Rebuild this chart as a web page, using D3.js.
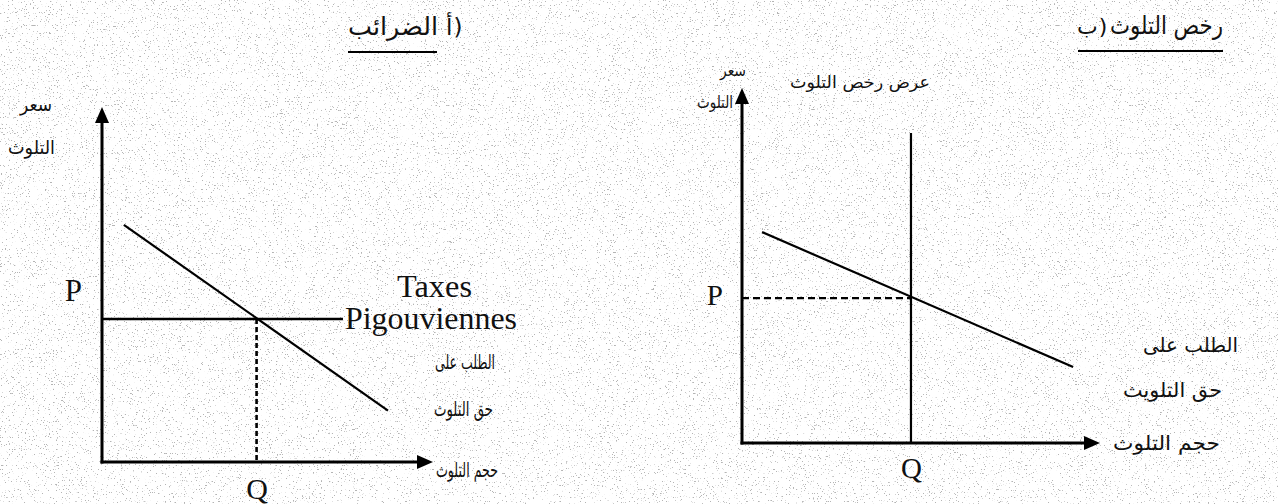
<!DOCTYPE html>
<html>
<head>
<meta charset="utf-8">
<script src="https://cdn.jsdelivr.net/npm/d3@7/dist/d3.min.js"></script>
<style>
  html, body { margin: 0; padding: 0; background: #ffffff; }
  svg { display: block; }
  .lat { font-family: "Liberation Serif", "Times New Roman", serif; fill: #111; }
  .ar  { font-family: "DejaVu Sans", sans-serif; fill: #111; }
</style>
</head>
<body>
<svg id="chart" width="1278" height="504"></svg>
<script>
// ---------- data ----------
const panelTitles = ["الضرائب", "رخص التلوث"];
const panelLetters = ["أ)", "ب)"];
const yAxisLabel = ["سعر", "التلوث"];
const xAxisLabel = "حجم التلوث";
const demandLabelA = ["الطلب على", "حق التلوث"];
const demandLabelB = ["الطلب على", "حق التلويث"];
const supplyLabelB = "عرض رخص التلوث";
const taxLabel = ["Taxes", "Pigouviennes"];
const tickP = ["P"];
const tickQ = ["Q"];

// panel A (taxes): demand line end points [quantity, price], tax level, quantity
const demandA = [[0.66, 6.68], [8.64, 1.45]];
const taxA = [[0, 4.03], [7.28, 4.03]];
const eqA = { q: 4.67, p: 4.03 };

// panel B (permits): demand line, vertical permit supply, equilibrium
const demandB = [[0.56, 5.94], [9.25, 2.14]];
const supplyB = [[4.72, 0], [4.72, 8.73]];
const eqB = { q: 4.72, p: 4.08 };

const axisDomain = [0, 10];

// ---------- setup ----------
const svg = d3.select("#chart");
const defs = svg.append("defs");

// scanned-paper speckle texture
const f = defs.append("filter").attr("id", "speck")
  .attr("x", 0).attr("y", 0).attr("width", 1278).attr("height", 504)
  .attr("filterUnits", "userSpaceOnUse");
f.append("feTurbulence").attr("type", "fractalNoise").attr("baseFrequency", 0.75)
  .attr("numOctaves", 2).attr("seed", 7).attr("result", "n");
f.append("feColorMatrix").attr("in", "n").attr("type", "matrix")
  .attr("values", "0 0 0 0 0.3  0 0 0 0 0.3  0 0 0 0 0.3  -14 0 0 0 4.7");
svg.append("rect").attr("width", 1278).attr("height", 504).attr("fill", "#fff");
svg.append("rect").attr("width", 1278).attr("height", 504).attr("fill", "#fff")
  .attr("filter", "url(#speck)").attr("opacity", 0.7);

defs.append("marker").attr("id", "arrow")
  .attr("viewBox", "0 0 16 14").attr("refX", 7).attr("refY", 7)
  .attr("markerWidth", 16).attr("markerHeight", 14)
  .attr("markerUnits", "userSpaceOnUse").attr("orient", "auto")
  .append("path").attr("d", "M0,0 L16,7 L0,14 Z").attr("fill", "#000");

const line = (xs, ys) => d3.line().x(d => xs(d[0])).y(d => ys(d[1]));

function drawAxes(g, xs, ys) {
  const x0 = xs(axisDomain[0]), y0 = ys(axisDomain[0]);
  g.append("line").attr("x1", x0).attr("y1", y0 + 1.5)
    .attr("x2", x0).attr("y2", ys(axisDomain[1]) + 9)
    .attr("stroke", "#000").attr("stroke-width", 3).attr("marker-end", "url(#arrow)");
  g.append("line").attr("x1", x0 - 1.5).attr("y1", y0)
    .attr("x2", xs(axisDomain[1]) - 9).attr("y2", y0)
    .attr("stroke", "#000").attr("stroke-width", 3).attr("marker-end", "url(#arrow)");
}

// Arabic label helper: anchor, size, fitted width
function arText(g, str, x, y, anchor, size, width) {
  const t = g.append("text").attr("class", "ar").attr("x", x).attr("y", y)
    .attr("text-anchor", anchor).attr("font-size", size).text(str);
  if (width) t.attr("textLength", width).attr("lengthAdjust", "spacingAndGlyphs");
  return t;
}
// panel letter as in the scan: the letter, then the parenthesis to its right
function letterText(g, str, x, y, size) {
  const lt = g.append("text").attr("class", "ar").attr("x", x).attr("y", y)
    .attr("font-size", size).text(str.slice(0, 1));
  const w = lt.node().getComputedTextLength();
  g.append("text").attr("class", "ar").attr("x", x + w + 1).attr("y", y)
    .attr("font-size", size).text(str.slice(1));
}

// ---------- panel A ----------
const xA = d3.scaleLinear().domain(axisDomain).range([102, 433]);
const yA = d3.scaleLinear().domain(axisDomain).range([462, 107]);
const gA = svg.append("g");

gA.append("path").attr("d", line(xA, yA)(taxA))
  .attr("fill", "none").attr("stroke", "#000").attr("stroke-width", 2.4);
gA.append("path").attr("d", line(xA, yA)([[eqA.q, eqA.p], [eqA.q, 0]]))
  .attr("fill", "none").attr("stroke", "#000").attr("stroke-width", 2.6)
  .attr("stroke-dasharray", "5,3");
gA.append("path").attr("d", line(xA, yA)(demandA))
  .attr("fill", "none").attr("stroke", "#000").attr("stroke-width", 2.2);
drawAxes(gA, xA, yA);

gA.append("g").attr("transform", `translate(0,${yA(0)})`)
  .call(d3.axisBottom(xA).tickValues([eqA.q]).tickSize(0).tickPadding(16).tickFormat(() => tickQ[0]))
  .call(a => a.select(".domain").remove())
  .selectAll("text").attr("font-size", 30).attr("fill", "#111")
  .style("font-family", "Liberation Serif, serif");
gA.append("g").attr("transform", `translate(${xA(0)},0)`)
  .call(d3.axisLeft(yA).tickValues([eqA.p]).tickSize(0).tickPadding(20).tickFormat(() => tickP[0]))
  .call(a => a.select(".domain").remove())
  .selectAll("text").attr("font-size", 31).attr("fill", "#111").attr("dy", "-0.6em")
  .style("font-family", "Liberation Serif, serif");

gA.append("text").attr("class", "lat").attr("x", 397).attr("y", 297).attr("font-size", 31)
  .attr("textLength", 75).attr("lengthAdjust", "spacingAndGlyphs").text(taxLabel[0]);
gA.append("text").attr("class", "lat").attr("x", 345).attr("y", 329).attr("font-size", 31)
  .attr("textLength", 172).attr("lengthAdjust", "spacingAndGlyphs").text(taxLabel[1]);

arText(gA, yAxisLabel[0], 52, 111, "end", 19, 32);
arText(gA, yAxisLabel[1], 55, 154, "end", 19, 47);
arText(gA, demandLabelA[0], 495, 369, "end", 20, 60);
arText(gA, demandLabelA[1], 493, 416, "end", 20, 59);
arText(gA, xAxisLabel, 498, 477, "end", 20, 62);

// title A
arText(gA, panelTitles[0], 438, 35, "end", 25, 90);
letterText(gA, panelLetters[0], 446, 35, 23);
gA.append("line").attr("x1", 348).attr("x2", 437).attr("y1", 52).attr("y2", 52).attr("stroke", "#000").attr("stroke-width", 2);

// ---------- panel B ----------
const xB = d3.scaleLinear().domain(axisDomain).range([742, 1100]);
const yB = d3.scaleLinear().domain(axisDomain).range([443, 88]);
const gB = svg.append("g");

gB.append("path").attr("d", line(xB, yB)([[0, eqB.p], [eqB.q, eqB.p]]))
  .attr("fill", "none").attr("stroke", "#000").attr("stroke-width", 2.4)
  .attr("stroke-dasharray", "7,4");
gB.append("path").attr("d", line(xB, yB)(supplyB))
  .attr("fill", "none").attr("stroke", "#000").attr("stroke-width", 2.2);
gB.append("path").attr("d", line(xB, yB)(demandB))
  .attr("fill", "none").attr("stroke", "#000").attr("stroke-width", 2.2);
drawAxes(gB, xB, yB);

gB.append("g").attr("transform", `translate(0,${yB(0)})`)
  .call(d3.axisBottom(xB).tickValues([eqB.q]).tickSize(0).tickPadding(14).tickFormat(() => tickQ[0]))
  .call(a => a.select(".domain").remove())
  .selectAll("text").attr("font-size", 29).attr("fill", "#111")
  .style("font-family", "Liberation Serif, serif");
gB.append("g").attr("transform", `translate(${xB(0)},0)`)
  .call(d3.axisLeft(yB).tickValues([eqB.p]).tickSize(0).tickPadding(19).tickFormat(() => tickP[0]))
  .call(a => a.select(".domain").remove())
  .selectAll("text").attr("font-size", 29).attr("fill", "#111").attr("dy", "0.22em")
  .style("font-family", "Liberation Serif, serif");

arText(gB, yAxisLabel[0], 746, 76, "end", 16, 26);
arText(gB, yAxisLabel[1], 733, 108, "end", 17, 36);
arText(gB, supplyLabelB, 930, 88, "end", 17, 140);
arText(gB, demandLabelB[0], 1238, 352, "end", 20, 95);
arText(gB, demandLabelB[1], 1222, 397, "end", 20, 99);
arText(gB, xAxisLabel, 1220, 450, "end", 20, 107);

// title B
arText(gB, panelTitles[1], 1223, 34, "end", 25, 113);
letterText(gB, panelLetters[1], 1077, 34, 22);
gB.append("line").attr("x1", 1078).attr("x2", 1223).attr("y1", 51).attr("y2", 51).attr("stroke", "#000").attr("stroke-width", 2);
</script>
</body>
</html>
